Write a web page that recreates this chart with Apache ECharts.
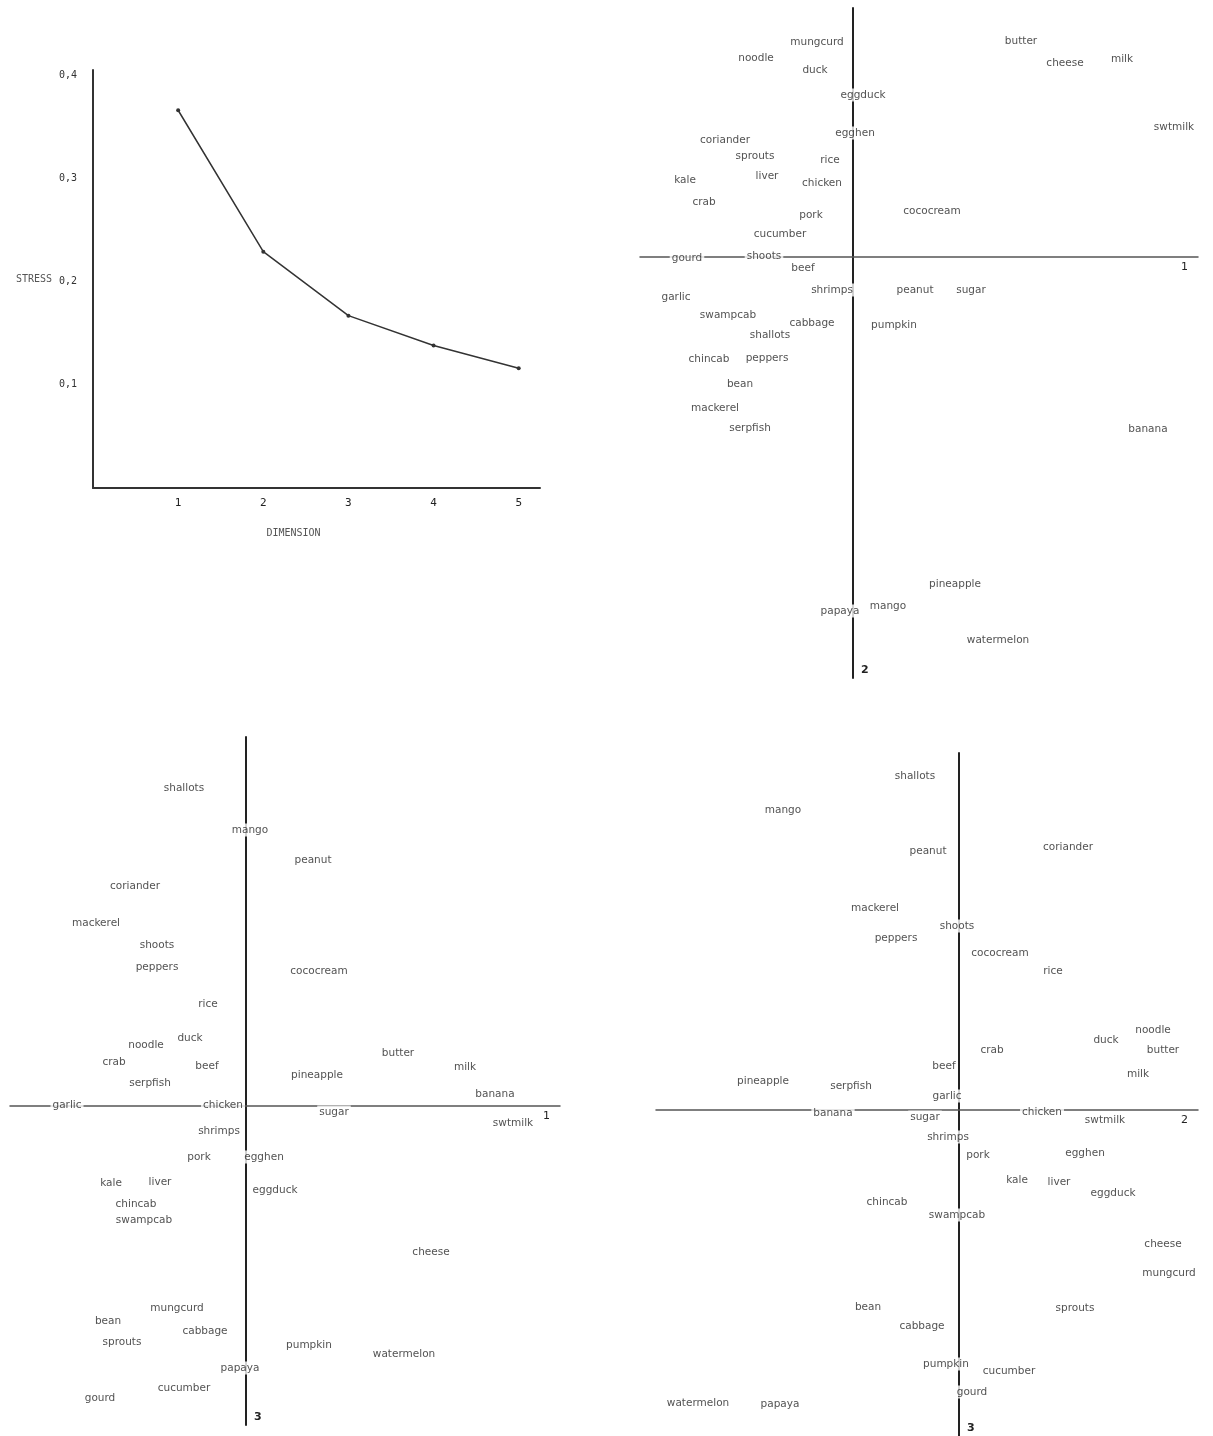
<!DOCTYPE html>
<html>
<head>
<meta charset="utf-8">
<script src="https://cdn.jsdelivr.net/npm/echarts@6/dist/echarts.min.js"></script>
<style>
  html, body { margin: 0; padding: 0; background: #fff; }
  #chart { width: 1213px; height: 1436px; }
</style>
</head>
<body>
<div id="chart"></div>
<script>
// stress against number of dimensions
const dims = [1, 2, 3, 4, 5];
const stress = [0.366, 0.229, 0.167, 0.138, 0.116];

// dimension 1 (x) vs dimension 2 (y)
const foodsA = ['mungcurd', 'noodle', 'duck', 'eggduck', 'butter', 'cheese', 'milk', 'swtmilk', 'egghen', 'coriander',
  'sprouts', 'rice', 'kale', 'liver', 'chicken', 'crab', 'pork', 'cococream', 'cucumber', 'gourd',
  'shoots', 'beef', 'shrimps', 'peanut', 'sugar', 'garlic', 'swampcab', 'cabbage', 'shallots', 'pumpkin',
  'chincab', 'peppers', 'bean', 'mackerel', 'serpfish', 'banana', 'pineapple', 'papaya', 'mango', 'watermelon'];
const dimA1 = [-0.36, -0.97, -0.38, 0.10, 1.68, 2.12, 2.69, 3.21, 0.02, -1.28,
  -0.98, -0.23, -1.68, -0.86, -0.31, -1.49, -0.42, 0.79, -0.73, -1.66,
  -0.89, -0.50, -0.21, 0.62, 1.18, -1.77, -1.25, -0.41, -0.83, 0.41,
  -1.44, -0.86, -1.13, -1.38, -1.03, 2.95, 1.02, -0.13, 0.35, 1.45];
const dimA2 = [2.15, 1.99, 1.87, 1.62, 2.16, 1.94, 1.98, 1.30, 1.24, 1.17,
  1.01, 0.97, 0.77, 0.81, 0.74, 0.55, 0.42, 0.46, 0.23, -0.01,
  0.01, -0.11, -0.33, -0.33, -0.33, -0.40, -0.58, -0.66, -0.78, -0.68,
  -1.02, -1.01, -1.27, -1.51, -1.71, -1.72, -3.27, -3.54, -3.49, -3.83];

// dimension 1 (x) vs dimension 3 (y)
const foodsB = ['shallots', 'mango', 'peanut', 'coriander', 'mackerel', 'shoots', 'peppers', 'cococream', 'rice', 'duck',
  'noodle', 'crab', 'beef', 'serpfish', 'butter', 'milk', 'pineapple', 'banana', 'garlic', 'chicken',
  'sugar', 'swtmilk', 'shrimps', 'pork', 'egghen', 'kale', 'liver', 'eggduck', 'chincab', 'swampcab',
  'cheese', 'mungcurd', 'bean', 'cabbage', 'sprouts', 'pumpkin', 'watermelon', 'papaya', 'cucumber', 'gourd'];
const dimB1 = [-0.62, 0.04, 0.67, -1.11, -1.50, -0.89, -0.89, 0.73, -0.38, -0.56,
  -1.00, -1.32, -0.39, -0.96, 1.52, 2.19, 0.71, 2.49, -1.79, -0.23,
  0.88, 2.67, -0.27, -0.47, 0.18, -1.35, -0.86, 0.29, -1.10, -1.02,
  1.85, -0.69, -1.38, -0.41, -1.24, 0.63, 1.58, -0.06, -0.62, -1.46];
const dimB3 = [3.18, 2.76, 2.46, 2.20, 1.83, 1.61, 1.39, 1.35, 1.02, 0.68,
  0.61, 0.44, 0.40, 0.23, 0.53, 0.39, 0.31, 0.12, 0.01, 0.01,
  -0.06, -0.17, -0.25, -0.51, -0.51, -0.77, -0.76, -0.84, -0.98, -1.14,
  -1.46, -2.02, -2.15, -2.25, -2.36, -2.39, -2.48, -2.62, -2.82, -2.92];

// dimension 2 (x) vs dimension 3 (y)
const foodsC = ['shallots', 'mango', 'peanut', 'coriander', 'mackerel', 'shoots', 'peppers', 'cococream', 'rice', 'noodle',
  'duck', 'butter', 'crab', 'beef', 'milk', 'pineapple', 'serpfish', 'garlic', 'banana', 'sugar',
  'chicken', 'swtmilk', 'shrimps', 'pork', 'egghen', 'kale', 'liver', 'eggduck', 'chincab', 'swampcab',
  'cheese', 'mungcurd', 'bean', 'sprouts', 'cabbage', 'pumpkin', 'cucumber', 'gourd', 'watermelon', 'papaya'];
const dimC2 = [-0.44, -1.76, -0.31, 1.09, -0.84, -0.02, -0.63, 0.41, 0.94, 1.94,
  1.47, 2.04, 0.33, -0.15, 1.79, -1.96, -1.08, -0.12, -1.26, -0.34,
  0.83, 1.46, -0.11, 0.19, 1.26, 0.58, 1.00, 1.54, -0.72, -0.02,
  2.04, 2.10, -0.91, 1.16, -0.37, -0.13, 0.50, 0.13, -2.61, -1.79];
const dimC3 = [3.34, 3.00, 2.59, 2.63, 2.02, 1.84, 1.72, 1.57, 1.39, 0.80,
  0.70, 0.60, 0.60, 0.44, 0.36, 0.29, 0.24, 0.14, -0.03, -0.07,
  -0.02, -0.10, -0.27, -0.45, -0.43, -0.70, -0.72, -0.83, -0.92, -1.05,
  -1.34, -1.63, -1.97, -1.98, -2.16, -2.54, -2.61, -2.82, -2.93, -2.94];

const labelFont = 'DejaVu Sans';
const monoFont = 'DejaVu Sans Mono';

function pairs(xs, ys, names) {
  return names.map((n, i) => ({ name: n, value: [xs[i], ys[i]] }));
}

// 散点面板：只画文字，不画点
function mapAxes(gridIndex, xr, yr, xName, yName) {
  const x = {
    type: 'value', gridIndex: gridIndex, min: xr[0], max: xr[1],
    axisLine: { show: true, onZero: true, lineStyle: { color: '#555', width: 1.5 } },
    axisTick: { show: false }, axisLabel: { show: false }, splitLine: { show: false },
    name: xName, nameLocation: 'end', nameGap: -10,
    nameTextStyle: { fontFamily: labelFont, fontSize: 11, color: '#222', align: 'right', verticalAlign: 'top', padding: [5, 0, 0, 0] }
  };
  const y = {
    type: 'value', gridIndex: gridIndex, min: yr[0], max: yr[1],
    axisLine: { show: true, onZero: true, lineStyle: { color: '#222', width: 2 } },
    axisTick: { show: false }, axisLabel: { show: false }, splitLine: { show: false },
    name: yName, nameLocation: 'start', nameGap: -8,
    nameTextStyle: { fontFamily: labelFont, fontSize: 11, fontWeight: 'bold', color: '#222', align: 'left', verticalAlign: 'middle', padding: [0, 0, 0, 8] }
  };
  return [x, y];
}

function mapSeries(idx, data) {
  return {
    type: 'scatter', xAxisIndex: idx, yAxisIndex: idx,
    symbolSize: 0, data: data, silent: true,
    label: {
      show: true, position: 'inside', formatter: '{b}',
      fontFamily: labelFont, fontSize: 10.5, color: '#262626',
      backgroundColor: '#fff', padding: [1, 2]
    }
  };
}

const axesA = mapAxes(1, [-2.13, 3.45], [-4.21, 2.49], '1', '2');
const axesB = mapAxes(2, [-2.36, 3.14], [-3.19, 3.69], '1', '3');
const axesC = mapAxes(3, [-3.03, 2.39], [-3.26, 3.57], '2', '3');

const chart = echarts.init(document.getElementById('chart'));
chart.setOption({
  backgroundColor: '#fff',
  animation: false,
  grid: [
    { left: 93, top: 70, width: 447, height: 418 },
    { left: 640, top: 8, width: 558, height: 670 },
    { left: 10, top: 737, width: 550, height: 688 },
    { left: 656, top: 753, width: 542, height: 683 }
  ],
  xAxis: [
    {
      type: 'value', gridIndex: 0, min: 0, max: 5.25, interval: 1,
      axisLine: { lineStyle: { color: '#333', width: 2 } },
      axisTick: { show: false }, splitLine: { show: false },
      axisLabel: {
        margin: 10, fontFamily: monoFont, fontSize: 11, color: '#222',
        formatter: v => (v >= 1 && Number.isInteger(v)) ? String(v) : ''
      },
      name: 'DIMENSION', nameLocation: 'middle', nameGap: 40,
      nameTextStyle: { fontFamily: monoFont, fontSize: 10, color: '#555', padding: [0, 46, 0, 0] }
    },
    axesA[0], axesB[0], axesC[0]
  ],
  yAxis: [
    {
      type: 'value', gridIndex: 0, min: 0, max: 0.405, interval: 0.1,
      axisLine: { show: true, lineStyle: { color: '#333', width: 2 } },
      axisTick: { show: false }, splitLine: { show: false },
      axisLabel: {
        margin: 16, fontFamily: monoFont, fontSize: 10, color: '#333',
        formatter: v => (v > 0 && Math.abs(v * 10 - Math.round(v * 10)) < 1e-6) ? v.toFixed(1).replace('.', ',') : ''
      },
      name: 'STRESS', nameLocation: 'middle', nameGap: 41, nameRotate: 0,
      nameTextStyle: { fontFamily: monoFont, fontSize: 10, color: '#555', padding: [36, 0, 0, 0] }
    },
    axesA[1], axesB[1], axesC[1]
  ],
  series: [
    {
      type: 'line', xAxisIndex: 0, yAxisIndex: 0,
      data: dims.map((d, i) => [d, stress[i]]),
      symbol: 'circle', symbolSize: 4, showAllSymbol: true,
      lineStyle: { color: '#333', width: 1.5 },
      itemStyle: { color: '#333' }
    },
    mapSeries(1, pairs(dimA1, dimA2, foodsA)),
    mapSeries(2, pairs(dimB1, dimB3, foodsB)),
    mapSeries(3, pairs(dimC2, dimC3, foodsC))
  ]
});
</script>
</body>
</html>
